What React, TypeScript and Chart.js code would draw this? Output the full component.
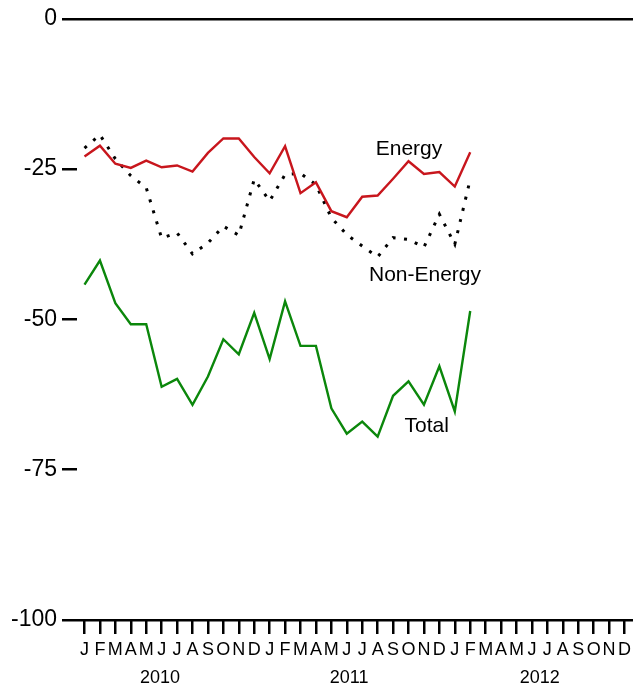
import React, { useEffect, useRef } from "react";
import { Chart, registerables } from "chart.js";

Chart.register(...registerables);

const monthLetters = ["J", "F", "M", "A", "M", "J", "J", "A", "S", "O", "N", "D"];
const monthLabels = [...monthLetters, ...monthLetters, ...monthLetters];
const years = ["2010", "2011", "2012"];
const yearTickPositions = [4.9, 17.15, 29.5];
const yTickStep = 25;

const energy = [
  -22.9, -21.1, -24.1, -24.8, -23.6, -24.7, -24.4, -25.4, -22.3, -19.9, -19.9, -23.0,
  -25.7, -21.2, -29.0, -27.2, -32.0, -33.0, -29.6, -29.4, -26.6, -23.7, -25.8, -25.5,
  -27.9, -22.2,
];
const nonEnergy = [
  -21.5, -19.3, -23.3, -26.1, -28.1, -36.5, -35.6, -39.1, -37.3, -34.5, -36.0, -26.7,
  -30.3, -25.9, -25.7, -27.6, -33.1, -35.9, -37.8, -39.6, -36.4, -36.7, -38.0, -32.5,
  -37.5, -26.7,
];
const total = [
  -44.2, -40.2, -47.3, -50.8, -50.8, -61.2, -59.9, -64.2, -59.5, -53.3, -55.8, -48.9,
  -56.6, -47.0, -54.4, -54.4, -64.8, -69.0, -67.0, -69.5, -62.7, -60.3, -64.2, -57.8,
  -65.3, -48.6,
];

const FONT = "'Liberation Sans', Arial, Helvetica, sans-serif";
const X_MIN = -0.486;
const X_MAX = 35.55;

const toPoints = (arr: number[]) => arr.map((v, i) => ({ x: i, y: v }));

const seriesLabelPlugin = {
  id: "seriesLabels",
  afterDatasetsDraw(chart: any) {
    const { ctx, scales } = chart;
    const xs = scales.x;
    const ys = scales.y;
    const items = [
      { text: "Energy", x: 21.03, y: -21.7 },
      { text: "Non-Energy", x: 22.07, y: -42.6 },
      { text: "Total", x: 22.18, y: -67.7 },
    ];
    ctx.save();
    ctx.fillStyle = "#000";
    ctx.font = `21px ${FONT}`;
    ctx.textAlign = "center";
    ctx.textBaseline = "middle";
    for (const it of items) {
      ctx.fillText(it.text, xs.getPixelForValue(it.x), ys.getPixelForValue(it.y));
    }
    ctx.restore();
  },
};

export default function App() {
  const ref = useRef<HTMLCanvasElement | null>(null);

  useEffect(() => {
    if (!ref.current) return;
    const chart = new Chart(ref.current, {
      type: "line",
      data: {
        datasets: [
          {
            label: "Total",
            data: toPoints(total),
            borderColor: "#0b870b",
            borderWidth: 2.4,
            pointRadius: 0,
            tension: 0,
            fill: false,
          },
          {
            label: "Energy",
            data: toPoints(energy),
            borderColor: "#c8161d",
            borderWidth: 2.4,
            pointRadius: 0,
            tension: 0,
            fill: false,
          },
          {
            label: "Non-Energy",
            data: toPoints(nonEnergy),
            borderColor: "#000",
            borderWidth: 3,
            borderDash: [3, 8.5],
            borderCapStyle: "butt",
            pointRadius: 0,
            tension: 0,
            fill: false,
          },
        ],
      },
      options: {
        responsive: false,
        animation: false,
        events: [],
        layout: { padding: { top: 17, right: 9, left: 0, bottom: 0 } },
        plugins: {
          legend: { display: false },
          tooltip: { enabled: false },
          title: { display: false },
        },
        scales: {
          x: {
            type: "linear",
            position: "bottom",
            weight: 0,
            min: X_MIN,
            max: X_MAX,
            afterBuildTicks: (s: any) => {
              s.ticks = monthLabels.map((_, i) => ({ value: i }));
            },
            afterFit: (s: any) => {
              s.height = 45;
            },
            ticks: {
              autoSkip: false,
              maxRotation: 0,
              minRotation: 0,
              padding: 5,
              color: "#000",
              font: { size: 18, family: FONT },
              callback: (v: any) => monthLabels[Math.round(Number(v))] ?? "",
            },
            grid: {
              drawOnChartArea: false,
              drawTicks: true,
              tickLength: 14,
              tickColor: "#000",
              tickWidth: 2.5,
              color: "#000",
              lineWidth: 2.5,
            },
            border: { display: false },
          },
          year: {
            type: "linear",
            axis: "x",
            position: "bottom",
            weight: 1,
            min: X_MIN,
            max: X_MAX,
            afterBuildTicks: (s: any) => {
              s.ticks = yearTickPositions.map((v) => ({ value: v }));
            },
            afterFit: (s: any) => {
              s.height = 23;
            },
            ticks: {
              autoSkip: false,
              maxRotation: 0,
              minRotation: 0,
              padding: 2,
              color: "#000",
              font: { size: 18, family: FONT },
              callback: (_v: any, i: number) => years[i] ?? "",
            },
            grid: { display: false, drawTicks: false },
            border: { display: false },
          },
          y: {
            type: "linear",
            min: -100,
            max: 0,
            afterFit: (s: any) => {
              s.width = 77;
            },
            ticks: {
              stepSize: yTickStep,
              padding: 5,
              color: "#000",
              font: { size: 23, family: FONT },
            },
            grid: {
              color: (c: any) =>
                c.tick && (c.tick.value === 0 || c.tick.value === -100) ? "#000" : "rgba(0,0,0,0)",
              lineWidth: 2.5,
              drawTicks: true,
              tickLength: 15,
              tickColor: "#000",
              tickWidth: 2.5,
            },
            border: { display: false },
          },
        },
      },
      plugins: [seriesLabelPlugin],
    } as any);
    return () => chart.destroy();
  }, []);

  return (
    <div style={{ position: "absolute", left: 0, top: 0, width: 642, height: 688, background: "#fff" }}>
      <canvas ref={ref} width={642} height={688} style={{ display: "block" }} />
    </div>
  );
}
